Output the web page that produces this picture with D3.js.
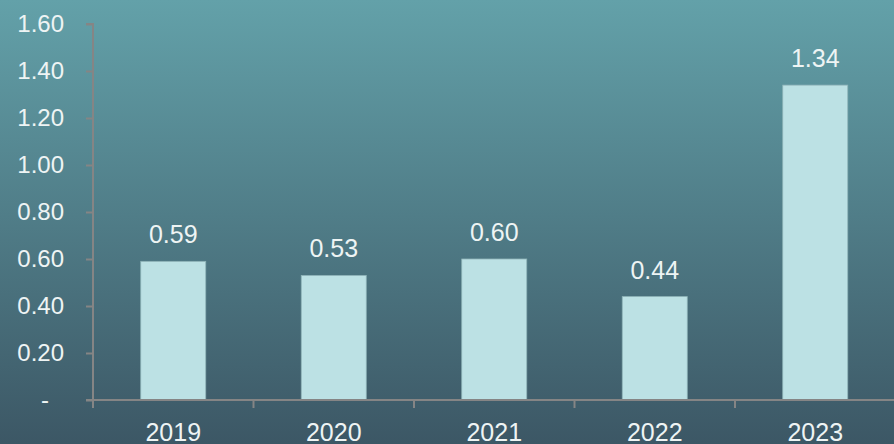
<!DOCTYPE html>
<html>
<head>
<meta charset="utf-8">
<script src="https://cdn.jsdelivr.net/npm/d3@7"></script>
<style>
  body { margin: 0; overflow: hidden; }
  svg { display: block; font-family: "Liberation Sans", Arial, sans-serif; }
</style>
</head>
<body>
<script>
const years = ["2019", "2020", "2021", "2022", "2023"];
const values = [0.59, 0.53, 0.60, 0.44, 1.34];
const yTicks = [0, 0.2, 0.4, 0.6, 0.8, 1.0, 1.2, 1.4, 1.6];

const W = 894, H = 444;
const margin = { top: 24, right: -1.5, bottom: 44, left: 93 };

const svg = d3.select("body").append("svg")
  .attr("width", W)
  .attr("height", H);

const grad = svg.append("defs").append("linearGradient")
  .attr("id", "bg")
  .attr("x1", 0).attr("y1", 0).attr("x2", 0).attr("y2", 1);
grad.append("stop").attr("offset", "0%").attr("stop-color", "#63a1a9");
grad.append("stop").attr("offset", "100%").attr("stop-color", "#3c5765");

svg.append("rect")
  .attr("width", W).attr("height", H)
  .attr("fill", "url(#bg)");

const x = d3.scaleBand()
  .domain(years)
  .range([margin.left, W - margin.right])
  .paddingInner(0.595)
  .paddingOuter(0.2975);

const y = d3.scaleLinear()
  .domain([0, 1.6])
  .range([H - margin.bottom, margin.top]);

// bars
svg.selectAll(".bar")
  .data(years)
  .join("rect")
    .attr("class", "bar")
    .attr("x", d => x(d))
    .attr("y", (d, i) => y(values[i]))
    .attr("width", x.bandwidth())
    .attr("height", (d, i) => y(0) - y(values[i]))
    .attr("fill", "#bce1e4")
    .attr("stroke", "#8fb4b8")
    .attr("stroke-width", 0.8);

// value labels
svg.selectAll(".val")
  .data(years)
  .join("text")
    .attr("class", "val")
    .attr("x", d => x(d) + x.bandwidth() / 2)
    .attr("y", (d, i) => y(values[i]) - 18)
    .attr("text-anchor", "middle")
    .attr("fill", "#eef4f4")
    .style("font-size", "25px")
    .text((d, i) => values[i].toFixed(2));

// y axis
const yAxis = svg.append("g")
  .attr("transform", `translate(${margin.left},0)`)
  .call(d3.axisLeft(y)
    .tickValues(yTicks)
    .tickSize(7)
    .tickPadding(22)
    .tickFormat(d => d === 0 ? "-" : d.toFixed(2)));

// x axis, ticks on category boundaries
const step = x.step();
const bounds = d3.range(years.length + 1).map(i => margin.left + i * step);
const xAxis = svg.append("g")
  .attr("transform", `translate(0,${y(0)})`);
xAxis.append("line")
  .attr("x1", margin.left).attr("x2", W)
  .attr("stroke", "#858585").attr("stroke-width", 2);
xAxis.selectAll(".xt")
  .data(bounds)
  .join("line")
    .attr("class", "xt")
    .attr("x1", d => d).attr("x2", d => d)
    .attr("y1", 0).attr("y2", 8)
    .attr("stroke", "#858585").attr("stroke-width", 2);
xAxis.selectAll(".xl")
  .data(years)
  .join("text")
    .attr("class", "xl")
    .attr("x", d => x(d) + x.bandwidth() / 2)
    .attr("y", 41)
    .attr("text-anchor", "middle")
    .attr("fill", "#eef4f4")
    .style("font-size", "25px")
    .text(d => d);

yAxis.select(".domain")
  .attr("stroke", "#858585").attr("stroke-width", 2)
  .attr("d", `M-7,${y(1.6)}H0V${y(0)}H-7`);
yAxis.selectAll(".tick line")
  .attr("stroke", "#858585").attr("stroke-width", 2);
yAxis.selectAll(".tick text")
  .attr("fill", "#eef4f4")
  .style("font-size", "24px")
  .style("font-family", "'Liberation Sans', Arial, sans-serif")
  .attr("dx", d => d === 0 ? -15 : 0);
</script>
</body>
</html>
